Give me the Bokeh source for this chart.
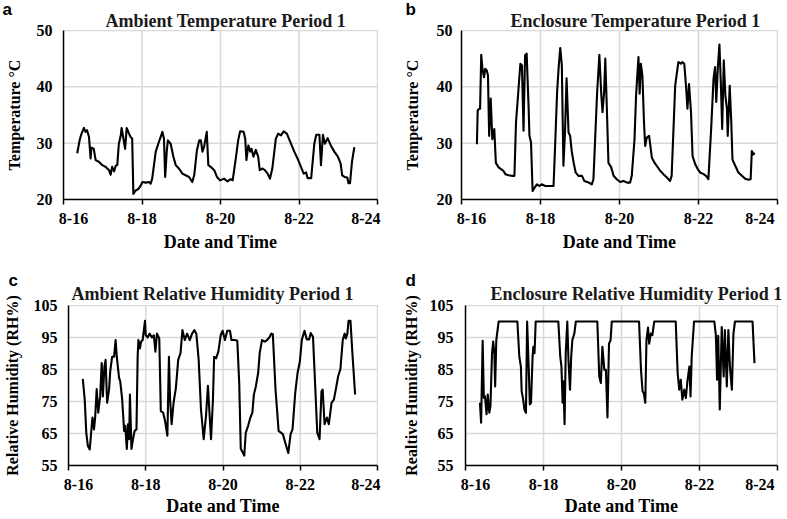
from bokeh.plotting import figure
from bokeh.models import FixedTicker, Range1d, Span, Title
from bokeh.layouts import column, row
from bokeh.embed import file_html
from bokeh.resources import INLINE

SERIF = "Liberation Serif"
SANS = "Liberation Sans"
GRID = "#d9d9d9"

# ---------------- data ----------------
date_ticks = [16, 18, 20, 22, 24]
date_labels = ["8-16", "8-18", "8-20", "8-22", "8-24"]
temp_ticks = [20, 30, 40, 50]
rh_ticks = [55, 65, 75, 85, 95, 105]

amb_temp_day = [16.35, 16.41, 16.45, 16.52, 16.56, 16.60, 16.65, 16.69, 16.71, 16.77, 16.82, 16.90,
                16.99, 17.07, 17.16, 17.20, 17.24, 17.29, 17.33, 17.37, 17.41, 17.46, 17.48, 17.52,
                17.57, 17.61, 17.67, 17.71, 17.75, 17.78, 17.84, 17.91, 17.97, 18.01, 18.10, 18.18,
                18.22, 18.26, 18.35, 18.43, 18.52, 18.56, 18.59, 18.63, 18.66, 18.73, 18.80, 18.86,
                18.94, 19.03, 19.11, 19.20, 19.28, 19.33, 19.40, 19.46, 19.50, 19.54, 19.58, 19.65,
                19.69, 19.75, 19.84, 19.91, 19.99, 20.09, 20.18, 20.26, 20.31, 20.39, 20.45, 20.50,
                20.59, 20.63, 20.66, 20.71, 20.76, 20.79, 20.84, 20.90, 20.96, 21.00, 21.07, 21.13,
                21.20, 21.26, 21.32, 21.41, 21.47, 21.54, 21.61, 21.69, 21.78, 21.88, 21.98, 22.05,
                22.12, 22.18, 22.22, 22.31, 22.39, 22.44, 22.52, 22.56, 22.61, 22.66, 22.73, 22.81,
                22.90, 22.99, 23.06, 23.10, 23.16, 23.23, 23.26, 23.30, 23.35, 23.41]
amb_temp_val = [28.2, 30.5, 31.5, 32.7, 32.0, 32.3, 31.1, 27.3, 29.2, 29.0, 27.0, 26.7,
                26.1, 25.8, 25.2, 24.4, 25.8, 25.0, 26.0, 26.1, 29.9, 31.4, 32.7, 31.1,
                29.0, 32.7, 31.7, 31.1, 30.8, 21.0, 21.6, 21.9, 22.5, 23.1, 23.0, 23.1,
                22.8, 23.7, 28.5, 30.2, 32.0, 30.8, 24.0, 28.5, 30.5, 29.9, 27.6, 26.1,
                25.5, 24.6, 24.3, 24.0, 23.1, 24.3, 28.8, 30.5, 30.5, 28.5, 29.3, 32.0,
                26.1, 25.8, 25.2, 24.0, 23.4, 23.7, 23.2, 23.6, 23.4, 27.3, 30.5, 32.1,
                32.0, 30.8, 27.0, 29.6, 28.5, 29.0, 27.6, 28.8, 27.6, 25.2, 25.5, 25.2,
                24.6, 23.7, 25.5, 30.8, 31.7, 31.4, 32.1, 31.7, 30.2, 28.5, 27.0, 25.8,
                24.6, 24.8, 23.8, 23.8, 29.9, 31.5, 31.5, 26.1, 31.5, 29.9, 30.9, 29.6,
                28.5, 27.6, 26.4, 24.3, 24.0, 23.9, 22.9, 22.9, 26.7, 29.3]

enc_temp_day = [16.39, 16.41, 16.45, 16.47, 16.50, 16.53, 16.57, 16.60, 16.64, 16.67, 16.70, 16.74,
                16.78, 16.83, 16.87, 16.94, 17.00, 17.06, 17.11, 17.19, 17.27, 17.34, 17.38, 17.44,
                17.49, 17.53, 17.57, 17.61, 17.65, 17.70, 17.72, 17.76, 17.80, 17.85, 17.91, 17.97,
                18.03, 18.12, 18.20, 18.29, 18.33, 18.37, 18.42, 18.46, 18.50, 18.54, 18.58, 18.62,
                18.66, 18.71, 18.75, 18.79, 18.84, 18.89, 18.96, 19.05, 19.11, 19.22, 19.30, 19.34,
                19.38, 19.43, 19.49, 19.54, 19.57, 19.61, 19.64, 19.68, 19.72, 19.79, 19.85, 19.93,
                20.02, 20.10, 20.19, 20.27, 20.31, 20.38, 20.42, 20.48, 20.51, 20.54, 20.58, 20.62,
                20.65, 20.69, 20.75, 20.82, 20.89, 20.95, 21.03, 21.11, 21.20, 21.28, 21.32, 21.41,
                21.49, 21.56, 21.59, 21.64, 21.69, 21.72, 21.76, 21.81, 21.85, 21.92, 21.98, 22.04,
                22.13, 22.19, 22.25, 22.32, 22.38, 22.42, 22.45, 22.49, 22.53, 22.57, 22.60, 22.64,
                22.68, 22.72, 22.74, 22.79, 22.83, 22.86, 22.93, 23.01, 23.10, 23.18, 23.27, 23.32,
                23.35, 23.39, 23.42]
enc_temp_val = [29.8, 35.8, 36.1, 36.1, 45.7, 43.2, 41.7, 43.2, 42.9, 42.0, 31.3, 37.9,
                30.7, 32.5, 26.5, 25.7, 25.4, 25.1, 24.5, 24.3, 24.2, 24.2, 33.7, 39.3,
                44.1, 43.8, 32.2, 45.6, 45.9, 36.1, 31.3, 30.1, 21.5, 22.1, 22.7, 22.4,
                22.7, 22.4, 22.4, 22.4, 22.4, 29.5, 39.0, 43.5, 46.9, 43.8, 26.0, 31.9,
                41.5, 31.9, 31.3, 28.6, 26.5, 24.8, 24.2, 24.2, 23.3, 23.0, 22.7, 23.6,
                30.1, 38.5, 45.7, 38.5, 35.5, 39.0, 45.0, 36.1, 26.5, 25.7, 24.2, 23.6,
                23.1, 23.3, 23.0, 23.0, 24.2, 30.7, 38.5, 45.3, 38.8, 44.1, 42.0, 33.7,
                29.5, 31.0, 31.3, 27.4, 26.5, 25.9, 25.1, 24.5, 23.9, 23.3, 24.2, 40.2,
                44.4, 44.1, 44.4, 44.1, 39.6, 36.1, 40.5, 35.5, 27.7, 26.2, 25.4, 24.8,
                24.5, 24.2, 23.6, 32.5, 41.4, 43.5, 37.3, 43.5, 47.5, 39.6, 32.5, 44.7,
                38.5, 36.1, 31.3, 40.2, 33.7, 27.1, 26.0, 24.8, 24.2, 23.7, 23.5, 23.6,
                28.6, 28.0, 28.3]

amb_rh_day = [16.37, 16.42, 16.46, 16.50, 16.55, 16.59, 16.62, 16.66, 16.69, 16.73, 16.77, 16.82,
              16.86, 16.89, 16.93, 16.96, 17.00, 17.05, 17.08, 17.13, 17.18, 17.22, 17.25, 17.31,
              17.34, 17.39, 17.44, 17.47, 17.51, 17.54, 17.57, 17.59, 17.63, 17.67, 17.71, 17.76,
              17.79, 17.81, 17.85, 17.88, 17.92, 17.98, 18.00, 18.05, 18.10, 18.16, 18.21, 18.25,
              18.29, 18.35, 18.39, 18.45, 18.50, 18.56, 18.60, 18.63, 18.67, 18.72, 18.78, 18.84,
              18.90, 18.95, 19.01, 19.07, 19.14, 19.20, 19.26, 19.31, 19.37, 19.43, 19.50, 19.56,
              19.61, 19.65, 19.69, 19.74, 19.77, 19.82, 19.88, 19.94, 19.99, 20.05, 20.11, 20.18,
              20.22, 20.31, 20.37, 20.42, 20.46, 20.51, 20.55, 20.59, 20.65, 20.71, 20.76, 20.80,
              20.85, 20.91, 20.95, 21.01, 21.08, 21.14, 21.20, 21.25, 21.29, 21.36, 21.44, 21.55,
              21.61, 21.69, 21.75, 21.80, 21.87, 21.93, 21.99, 22.04, 22.11, 22.17, 22.23, 22.27,
              22.33, 22.38, 22.44, 22.50, 22.55, 22.58, 22.63, 22.69, 22.74, 22.81, 22.87, 22.92,
              22.98, 23.04, 23.10, 23.15, 23.18, 23.22, 23.25, 23.30, 23.35, 23.42]
amb_rh_val = [82.1, 75.6, 65.3, 61.2, 60.0, 65.8, 70.0, 66.3, 70.0, 78.9, 71.5, 76.6,
              87.0, 76.6, 85.9, 88.0, 74.6, 78.7, 84.4, 89.0, 89.0, 94.2, 89.0, 82.3,
              81.3, 75.6, 65.8, 67.4, 60.2, 67.9, 63.2, 77.2, 60.2, 63.2, 65.8, 66.3,
              89.0, 94.2, 91.6, 93.7, 94.2, 100.2, 95.7, 95.0, 96.2, 95.0, 95.7, 90.6,
              96.2, 94.7, 72.0, 71.5, 68.9, 64.3, 89.0, 75.6, 67.9, 74.6, 79.2, 88.0,
              90.1, 97.3, 94.2, 96.2, 94.2, 96.2, 97.3, 96.2, 88.0, 72.5, 63.2, 70.5,
              79.9, 71.5, 63.2, 75.6, 89.0, 88.5, 90.6, 95.7, 97.1, 94.2, 97.1, 97.1,
              94.2, 94.2, 94.0, 80.8, 60.2, 59.1, 58.1, 65.3, 67.4, 70.0, 71.5, 77.2,
              79.7, 83.9, 90.1, 94.2, 93.7, 94.2, 95.0, 96.2, 96.0, 78.7, 65.8, 64.8,
              62.2, 58.9, 64.8, 66.3, 77.7, 83.9, 87.5, 94.2, 97.1, 94.4, 94.4, 96.4,
              95.2, 81.8, 65.3, 63.2, 78.2, 78.7, 67.9, 70.0, 67.9, 74.6, 75.6, 78.7,
              82.8, 85.1, 94.2, 96.2, 94.7, 96.2, 100.2, 100.2, 90.1, 77.2]

enc_rh_day = [16.37, 16.40, 16.44, 16.47, 16.50, 16.54, 16.57, 16.61, 16.64, 16.68, 16.71, 16.74,
              16.76, 16.79, 16.85, 17.33, 17.38, 17.42, 17.44, 17.48, 17.51, 17.55, 17.58, 17.62,
              17.65, 17.68, 17.72, 17.74, 17.77, 17.80, 18.38, 18.43, 18.46, 18.49, 18.51, 18.54,
              18.57, 18.61, 18.64, 18.68, 18.71, 18.74, 18.79, 18.83, 19.38, 19.43, 19.47, 19.51,
              19.56, 19.60, 19.64, 19.68, 19.72, 19.75, 20.45, 20.50, 20.54, 20.57, 20.61, 20.64,
              20.68, 20.71, 20.75, 20.79, 20.84, 21.39, 21.44, 21.48, 21.52, 21.56, 21.61, 21.65,
              21.69, 21.74, 21.77, 21.80, 21.86, 22.38, 22.42, 22.45, 22.48, 22.52, 22.57, 22.62,
              22.65, 22.70, 22.74, 22.78, 22.83, 22.87, 22.91, 23.36, 23.41]
enc_rh_val = [74.6, 68.4, 94.0, 76.1, 76.6, 71.0, 77.2, 71.5, 73.6, 90.1, 93.7, 90.1,
              79.7, 94.2, 100.0, 100.0, 89.0, 85.9, 78.2, 75.6, 72.5, 71.5, 100.0, 85.9,
              74.1, 74.6, 89.0, 92.1, 90.1, 100.0, 100.0, 89.0, 85.9, 74.6, 81.3, 67.9,
              90.1, 100.0, 88.0, 78.7, 89.0, 94.2, 96.2, 100.0, 100.0, 82.8, 80.8, 92.1,
              84.9, 84.9, 70.0, 93.1, 94.2, 100.0, 100.0, 84.9, 78.2, 77.7, 74.6, 94.2,
              98.1, 93.1, 96.2, 95.7, 100.0, 100.0, 83.9, 78.7, 81.8, 75.6, 78.7, 76.1,
              81.3, 85.9, 76.6, 89.0, 100.0, 100.0, 95.7, 81.8, 95.5, 72.5, 98.3, 82.8,
              97.3, 79.7, 97.3, 85.9, 78.7, 96.2, 100.0, 100.0, 87.0]

PAD_LEFT = "\u00a0" * 5
PAD_RIGHT = "\u00a0" * 3


def make_panel(letter, title, ylabel, xs, ys, yticks, width, height,
               b_left, b_right, b_top, b_bottom, title_offset, title_standoff,
               letter_offset, letter_standoff, ytick_standoff, ylab_standoff,
               xtick_standoff, xlab_standoff):
    p = figure(width=width, height=height, title=None, toolbar_location=None,
               output_backend="svg",
               x_range=Range1d(date_ticks[0], date_ticks[-1]),
               y_range=Range1d(yticks[0], yticks[-1]),
               min_border_left=b_left, min_border_right=b_right,
               min_border_top=b_top, min_border_bottom=b_bottom)
    p.outline_line_color = GRID
    p.outline_line_width = 1
    p.xgrid.visible = False
    p.ygrid.visible = False

    # gridlines at the tick positions
    for t in date_ticks:
        p.add_layout(Span(location=t, dimension="height", line_color=GRID,
                          line_width=1.5, level="underlay"))
    for t in yticks:
        p.add_layout(Span(location=t, dimension="width", line_color=GRID,
                          line_width=1.5, level="underlay"))

    p.line(xs, ys, line_color="black", line_width=2.1, line_join="round")

    p.xaxis.ticker = FixedTicker(ticks=date_ticks)
    p.yaxis.ticker = FixedTicker(ticks=yticks)
    overrides = {t: lab for t, lab in zip(date_ticks, date_labels)}
    overrides[date_ticks[0]] = PAD_LEFT + date_labels[0]
    overrides[date_ticks[-1]] = date_labels[-1] + PAD_RIGHT
    p.xaxis.major_label_overrides = overrides

    for ax in (p.xaxis[0], p.yaxis[0]):
        ax.axis_line_color = "black"
        ax.axis_line_width = 1.5
        ax.major_label_text_font = SERIF
        ax.major_label_text_font_style = "bold"
        ax.major_label_text_color = "black"
        ax.major_label_text_font_size = "16px"
        ax.axis_label_text_font = SERIF
        ax.axis_label_text_font_style = "bold"
        ax.axis_label_text_color = "black"
        ax.minor_tick_line_color = None
        ax.major_tick_in = 0
    p.xaxis.axis_label_text_font_size = "18px"
    p.yaxis.axis_label_text_font_size = "16px"
    p.xaxis.major_tick_out = 5
    p.xaxis.major_tick_line_color = "black"
    p.xaxis.major_tick_line_width = 1.5
    p.yaxis.major_tick_out = 0
    p.yaxis.major_tick_line_color = None
    p.xaxis.major_label_standoff = xtick_standoff
    p.yaxis.major_label_standoff = ytick_standoff
    p.xaxis.axis_label = "Date and Time"
    p.yaxis.axis_label = ylabel
    p.xaxis.axis_label_standoff = xlab_standoff
    p.yaxis.axis_label_standoff = ylab_standoff

    # title (nearest the frame) then panel letter (outer)
    p.add_layout(Title(text=title, align="left", offset=title_offset, standoff=title_standoff,
                       text_font=SERIF, text_font_style="bold", text_font_size="18px",
                       text_color="#1a1a1a"), "above")
    p.add_layout(Title(text=letter, align="left", offset=letter_offset, standoff=letter_standoff,
                       text_font=SANS, text_font_style="bold", text_font_size="17px",
                       text_color="black"), "above")
    return p


pa = make_panel("a", "Ambient Temperature Period 1", "Temperature \u00b0C",
                amb_temp_day, amb_temp_val, temp_ticks,
                392, 255, 63, 15, 30, 56, 42, 0, -61, -21,
                11, 11, 5, 2)
pb = make_panel("b", "Enclosure Temperature Period 1", "Temperature \u00b0C",
                enc_temp_day, enc_temp_val, temp_ticks,
                394, 255, 69, 9, 30, 56, 49, 0, -56, -21,
                9, 13, 5, 2)
pc = make_panel("c", "Ambient Relative Humidity Period 1", "Relative Humidity (RH%)",
                amb_rh_day, amb_rh_val, rh_ticks,
                392, 264, 63, 15, 50, 54, 3, 4, -60, -21,
                11, 10, 5, 0)
pd_ = make_panel("d", "Enclosure Relative Humidity Period 1", "Realtive Humidity (RH%)",
                 enc_rh_day, enc_rh_val, rh_ticks,
                 394, 264, 73, 9, 50, 54, 25, 4, -60, -21,
                 12, 7, 5, 0)

layout = column(row(pa, pb, spacing=0), row(pc, pd_, spacing=0), spacing=0)

with open("out.html", "w") as f:
    f.write(file_html(layout, INLINE))
